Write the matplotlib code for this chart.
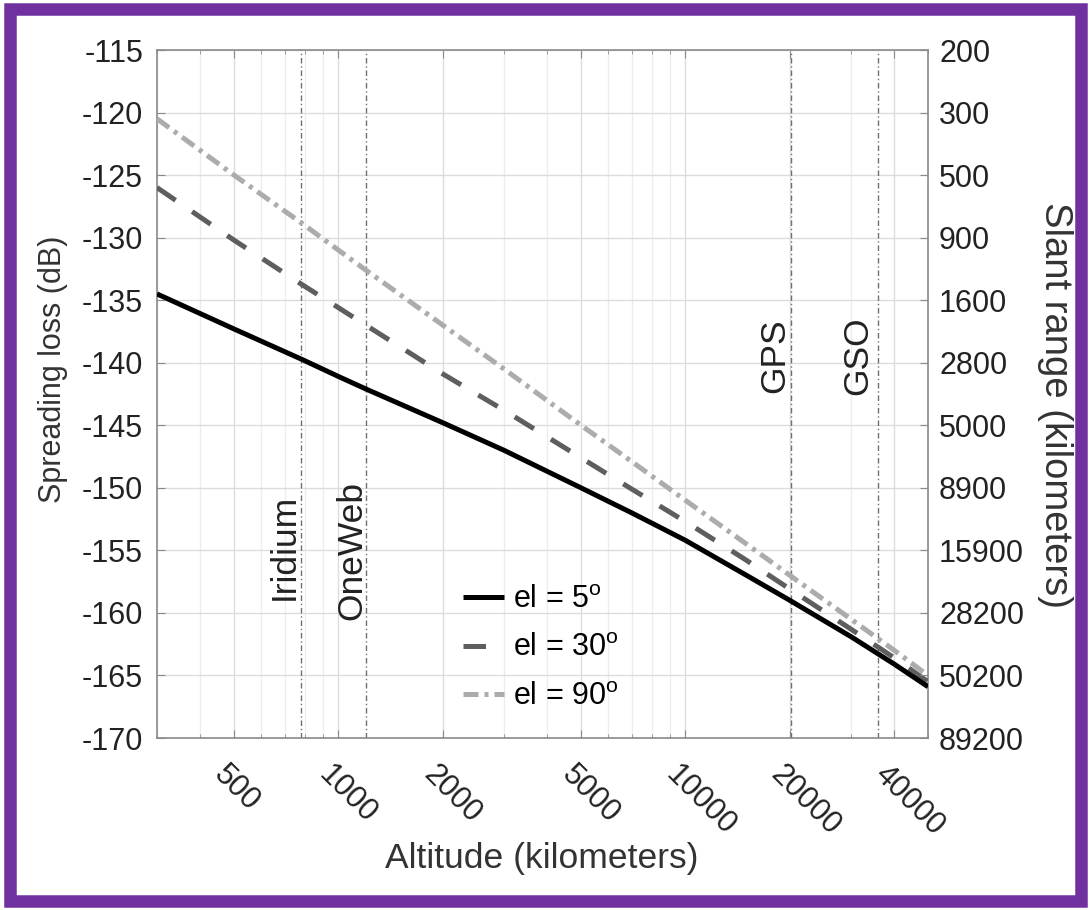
import matplotlib
matplotlib.use("Agg")
import matplotlib.pyplot as plt
from matplotlib.patches import Rectangle
from matplotlib.transforms import ScaledTranslation
from matplotlib.ticker import NullFormatter, LogLocator

plt.rcParams['font.family'] = ['Liberation Sans', 'DejaVu Sans']
plt.rcParams['mathtext.fontset'] = 'custom'
plt.rcParams['mathtext.rm'] = 'Liberation Sans'
plt.rcParams['axes.unicode_minus'] = False

# ---- data ----
altitude_km = [300, 500, 780, 1000, 1200, 2000, 3000, 5000, 7000, 10000,
               15000, 20000, 30000, 40000, 50000]
loss_el5 = [-134.5, -137.3, -139.7, -141.1, -142.1, -144.8, -147.0, -150.0,
            -152.0, -154.2, -157.0, -159.0, -161.9, -164.1, -165.9]
loss_el30 = [-126.0, -130.2, -133.7, -135.6, -137.0, -140.9, -143.8, -147.6,
             -150.1, -152.7, -155.8, -158.1, -161.3, -163.6, -165.5]
loss_el90 = [-120.5, -125.0, -128.8, -131.0, -132.6, -137.0, -140.5, -145.0,
             -147.9, -151.0, -154.5, -157.0, -160.5, -163.0, -165.0]
series_labels = ['el = 5$^{\\mathrm{o}}$', 'el = 30$^{\\mathrm{o}}$', 'el = 90$^{\\mathrm{o}}$']

orbit_names = ['Iridium', 'OneWeb', 'GPS', 'GSO']
orbit_altitudes = [780, 1200, 20200, 35786]
orbit_label_x = [700, 1090, 18100, 31400]
orbit_label_y = [-154.7, -155.0, -139.4, -139.4]

x_ticks = [500, 1000, 2000, 5000, 10000, 20000, 40000]
x_ticklabels = ['500', '1000', '2000', '5000', '10000', '20000', '40000']
y_ticks = [-115, -120, -125, -130, -135, -140, -145, -150, -155, -160, -165, -170]
slant_labels = ['200', '300', '500', '900', '1600', '2800', '5000', '8900',
                '15900', '28200', '50200', '89200']

TICK_FS = 22
ORBIT_FS = 25.5

# ---- figure ----
W, H = 1091, 910
AX_L, AX_R, AX_T, AX_B = 157, 928, 50, 738
fig = plt.figure(figsize=(W / 100, H / 100), dpi=100)
ax = fig.add_axes([AX_L / W, 1 - AX_B / H, (AX_R - AX_L) / W, (AX_B - AX_T) / H])


def ax_frac(px, py):
    return (px - AX_L) / (AX_R - AX_L), (AX_B - py) / (AX_B - AX_T)


ax.set_xscale('log')
ax.set_xlim(300, 50000)
ax.set_ylim(-170, -115)

ax.plot(altitude_km, loss_el5, color='black', lw=3.6, solid_capstyle='butt',
        label=series_labels[0], zorder=5)
l30, = ax.plot(altitude_km, loss_el30, color='#5e5e5e', lw=3.6,
               label=series_labels[1], zorder=4)
l30.set_dashes((4.5, 4.0))
l90, = ax.plot(altitude_km, loss_el90, color='#acacac', lw=3.6,
               label=series_labels[2], zorder=3)
l90.set_dashes((3.0, 1.2, 0.8, 1.2))

for xa in orbit_altitudes:
    ax.axvline(xa, color='#707070', lw=1.0, ls=(0, (4, 2, 1, 2)), zorder=2)
for name, tx, ty in zip(orbit_names, orbit_label_x, orbit_label_y):
    ax.text(tx, ty, name, rotation=90, ha='center', va='center',
            fontsize=ORBIT_FS, color='#222222')

# grid / ticks
ax.set_xticks(x_ticks)
ax.set_xticklabels(x_ticklabels)
ax.xaxis.set_minor_locator(LogLocator(base=10, subs=range(1, 10), numticks=20))
ax.xaxis.set_minor_formatter(NullFormatter())
ax.set_yticks(y_ticks)
ax.grid(True, which='major', color='#dcdcdc', lw=1.0)
ax.grid(True, which='minor', axis='x', color='#ececec', lw=0.9)
ax.set_axisbelow(True)

for sp in ax.spines.values():
    sp.set_color('#8a8a8a')
    sp.set_linewidth(1.2)

ax.tick_params(axis='both', which='both', direction='in', color='#8a8a8a',
               top=True, right=False)
ax.tick_params(axis='both', which='major', length=6)
ax.tick_params(axis='x', which='minor', length=3)
ax.tick_params(axis='y', labelsize=TICK_FS, pad=10, labelcolor='#222222')
ax.tick_params(axis='x', labelsize=TICK_FS, pad=23, labelcolor='#222222')

for lab in ax.get_xticklabels():
    lab.set_rotation(-45)
    lab.set_ha('left')
    lab.set_va('center')
    lab.set_rotation_mode('anchor')
    lab.set_transform(lab.get_transform() +
                      ScaledTranslation(-15 / 100, 0, fig.dpi_scale_trans))

ax.set_xlabel('Altitude (kilometers)', fontsize=25.5, color='#333333', va='top')
ax.xaxis.set_label_coords(*ax_frac(542, 842))
ax.set_ylabel('Spreading loss (dB)', fontsize=22, color='#333333', va='center')
ax.yaxis.set_label_coords(*ax_frac(53, 369))

# right axis
ax2 = ax.twinx()
ax2.set_ylim(-170, -115)
ax2.set_yticks(y_ticks)
ax2.set_yticklabels(slant_labels)
ax2.tick_params(axis='y', direction='in', length=6, color='#8a8a8a',
                labelsize=TICK_FS, pad=8, labelcolor='#222222')
for sp in ax2.spines.values():
    sp.set_visible(False)
ax2.set_ylabel('Slant range (kilometers)', fontsize=27.5, color='#333333',
               rotation=270, va='center')
ax2.yaxis.set_label_coords(*ax_frac(1055, 405))

leg = ax.legend(loc='upper left', bbox_to_anchor=ax_frac(463, 585), frameon=False,
                fontsize=TICK_FS, handlelength=1.35, handletextpad=0.3,
                labelspacing=0.6, borderaxespad=0, borderpad=0)

# purple frame
fig.patches.append(Rectangle((10 / W, 9 / H), (W - 20) / W, (H - 18) / H,
                             transform=fig.transFigure, fill=False,
                             edgecolor='#7030a0', lw=9, zorder=10))

fig.savefig('out.png', dpi=100)
